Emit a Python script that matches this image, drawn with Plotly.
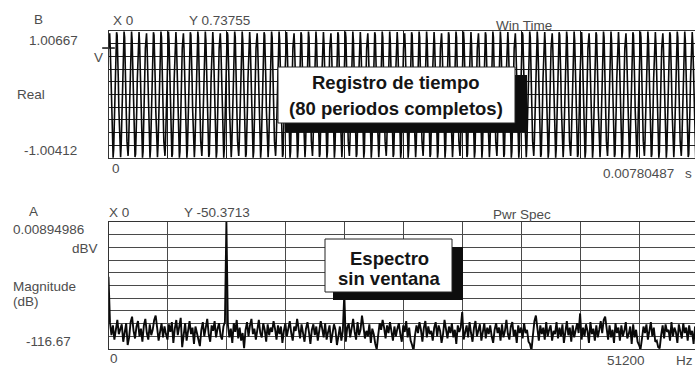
import plotly.graph_objects as go

W, H = 695, 369

# ---- Time record (channel B): 1024 samples at 131072 Sa/s, 80 periods.
# 12.8 samples per period, so the sample pattern repeats every 5 periods (64 samples).
wave_block = [
    0.737, 0.969, 0.971, 0.745, 0.342, -0.141, -0.591, -0.902, -0.999, -0.861, -0.519, -0.055,
    0.423, 0.800, 0.988, 0.943, 0.676, 0.248, -0.238, -0.668, -0.940, -0.990, -0.806, -0.432,
    0.044, 0.509, 0.855, 0.999, 0.906, 0.600, 0.152, -0.332, -0.737, -0.969, -0.971, -0.745,
    -0.342, 0.141, 0.591, 0.902, 0.999, 0.861, 0.519, 0.055, -0.423, -0.800, -0.988, -0.943,
    -0.676, -0.248, 0.238, 0.668, 0.940, 0.990, 0.806, 0.432, -0.044, -0.509, -0.855, -0.999,
    -0.906, -0.600, -0.152, 0.332,
]
block_repeats = 16
sample_rate = 131072
time_end = 0.00780487
time_top, time_bottom = 1.00667, -1.00412

# ---- Power spectrum (channel A): 401 lines, 0..51200 Hz, 128 Hz resolution (dBV)
line_spacing_hz = 128
freq_end = 51200
spec_top, spec_bottom = 0.00894986, -116.67
spectrum_db = [
    -50.4, -92, -104, -95, -108, -97, -90, -103, -99, -94, -110, -101, -93, -113, -106, -92, -87, -100, -107, -96,
    -91, -105, -98, -110, -95, -89, -102, -108, -94, -104, -99, -90, -86, -97, -109, -101, -93, -106, -96, -103,
    -108, -94, -101, -92, -111, -98, -90, -104, -95, -88, -115, -105, -93, -109, -100, -91, -103, -97, -112, -96,
    -102, -107, -114, -99, -92, -105, -97, -89, -103, -110, -95, -100, -91, -106, -98, -93, -104, -108, -96, -92,
    0.0, -94, -106, -98, -111, -93, -101, -90, -107, -97, -109, -102, -116, -99, -92, -105, -95, -89, -103, -98,
    -108, -96, -90, -102, -106, -93, -99, -110, -94, -104, -97, -101, -91, -98, -108, -95, -103, -96, -111, -100,
    -93, -105, -98, -91, -102, -109, -96, -100, -89, -97, -107, -94, -103, -110, -98, -92, -101, -112, -99, -94,
    -104, -96, -109, -100, -91, -98, -106, -93, -108, -101, -95, -111, -102, -94, -99, -113, -105, -96, -109, -100,
    -66, -110, -97, -93, -106, -98, -89, -101, -108, -92, -104, -99, -86, -96, -107, -100, -105, -94, -111, -98,
    -103, -112, -117, -104, -93, -99, -90, -97, -107, -95, -102, -92, -100, -109, -96, -105, -98, -93, -103, -110,
    -95, -101, -91, -106, -97, -109, -113, -118, -104, -95, -102, -92, -99, -110, -97, -91, -106, -96, -103, -100,
    -109, -97, -92, -105, -95, -100, -111, -103, -90, -98, -107, -96, -102, -93, -106, -99, -112, -95, -101, -97,
    -82.7, -108, -100, -95, -106, -92, -102, -110, -97, -91, -105, -100, -94, -109, -101, -93, -107, -97, -103, -95,
    -105, -111, -99, -93, -102, -97, -109, -94, -106, -100, -90, -103, -108, -96, -92, -105, -99, -111, -95, -102,
    -97, -107, -93, -102, -99, -110, -112, -118, -104, -91, -86, -100, -109, -95, -103, -97, -108, -92, -105, -99,
    -95, -109, -100, -103, -92, -107, -97, -105, -94, -111, -99, -91, -104, -97, -110, -95, -106, -100, -93, -102,
    -84, -108, -97, -105, -94, -100, -111, -92, -103, -98, -109, -95, -106, -99, -91, -102, -90, -87, -100, -108,
    -95, -106, -99, -111, -93, -102, -97, -109, -95, -105, -100, -92, -107, -103, -96, -112, -94, -106, -99, -110,
    -113, -117, -107, -96, -102, -94, -108, -100, -92, -105, -97, -110, -109, -115, -116, -104, -95, -107, -94, -101,
    -99, -109, -92, -105, -97, -101, -111, -94, -100, -107, -93, -102, -97, -109, -95, -104, -100, -112, -96, -101,
    -99,
]

wave = wave_block * block_repeats
time_s = [i / sample_rate for i in range(len(wave))]
freq_hz = [i * line_spacing_hz for i in range(len(spectrum_db))]


def px(x):
    return x / W


def py(y):
    return 1 - y / H


# plot areas (pixels); the display runs past the right edge of the page
left_px, full_right_px, page_right_px = 108.5, 698.0, 695.0
vis = (page_right_px - left_px) / (full_right_px - left_px)

fig = go.Figure()

fig.add_trace(go.Scatter(
    x=time_s, y=wave, mode="lines", xaxis="x", yaxis="y",
    line=dict(color="#0a0a0a", width=1.6), hoverinfo="skip", showlegend=False,
))
# marker readout at X 0
fig.add_trace(go.Scatter(
    x=[time_s[0]], y=[wave[0]], mode="markers", xaxis="x", yaxis="y",
    marker=dict(symbol="line-ew", size=9, line=dict(color="#111111", width=1.5)),
    hoverinfo="skip", showlegend=False, cliponaxis=False,
))
fig.add_trace(go.Scatter(
    x=freq_hz, y=spectrum_db, mode="lines", xaxis="x2", yaxis="y2",
    line=dict(color="#0a0a0a", width=1.9), hoverinfo="skip", showlegend=False,
))

base = dict(showticklabels=False, ticks="", zeroline=False, showgrid=True,
            gridwidth=1, showline=True, linecolor="#333333", linewidth=1)
top_grid = dict(gridcolor="#1e1e1e", **base)
bottom_grid = dict(gridcolor="#4a4a4a", **base)

fig.update_layout(
    width=W, height=H,
    margin=dict(l=0, r=0, t=0, b=0),
    paper_bgcolor="white", plot_bgcolor="white",
    xaxis=dict(domain=[px(left_px), 1], range=[0, time_end * vis],
               tick0=0, dtick=time_end / 10, anchor="y", mirror=True, **top_grid),
    yaxis=dict(domain=[py(158), py(31)], range=[time_bottom, time_top],
               tick0=time_bottom, dtick=(time_top - time_bottom) / 10, anchor="x", **top_grid),
    xaxis2=dict(domain=[px(left_px), 1], range=[0, freq_end * vis],
                tick0=0, dtick=freq_end / 10, anchor="y2", mirror=True, **bottom_grid),
    yaxis2=dict(domain=[py(349), py(222)], range=[spec_bottom, spec_top],
                tick0=spec_bottom, dtick=(spec_top - spec_bottom) / 10, anchor="x2", **bottom_grid),
)

# callout boxes with drop shadows
shapes = []
for (x0, y0, x1, y1, sh_x0, sh_y0, sh_x1, sh_y1) in [
    (278, 67, 515, 123, 285, 75, 527, 132),
    (325, 239, 452, 292, 333, 247, 463, 300),
]:
    shapes.append(dict(type="rect", xref="paper", yref="paper",
                       x0=px(sh_x0), x1=px(sh_x1), y0=py(sh_y1), y1=py(sh_y0),
                       fillcolor="#0d0d0d", line=dict(width=0), layer="above"))
    shapes.append(dict(type="rect", xref="paper", yref="paper",
                       x0=px(x0), x1=px(x1), y0=py(y1), y1=py(y0),
                       fillcolor="white", line=dict(color="#222222", width=1), layer="above"))
fig.update_layout(shapes=shapes)

small = dict(family="Liberation Sans, Arial, sans-serif", size=13.5, color="#4d4d4d")
big = dict(family="Liberation Sans, Arial, sans-serif", size=18.5, color="#151515")

labels = [
    # (text, x, y, xanchor, font)
    ("B", 38, 20, "center", small),
    ("1.00667", 80, 40, "right", small),
    ("V", 98, 58, "center", small),
    ("Real", 15, 95, "left", small),
    ("-1.00412", 79, 150, "right", small),
    ("0", 110, 169, "left", small),
    ("X 0", 111, 21, "left", small),
    ("Y 0.73755", 187, 21, "left", small),
    ("Win Time", 494, 25, "left", small),
    ("0.00780487", 676, 173, "right", small),
    ("s", 694, 173, "right", small),
    ("A", 33, 211, "center", small),
    ("0.00894986", 11, 230, "left", small),
    ("dBV", 100, 248, "right", small),
    ("Magnitude", 11, 286, "left", small),
    ("(dB)", 11, 301, "left", small),
    ("-116.67", 73, 341, "right", small),
    ("0", 108, 358, "left", small),
    ("X 0", 107, 212, "left", small),
    ("Y -50.3713", 182, 212, "left", small),
    ("Pwr Spec", 491, 214, "left", small),
    ("51200", 647, 360, "right", small),
    ("Hz", 695, 360, "right", small),
    ("<b>Registro de tiempo</b>", 396, 82, "center", big),
    ("<b>(80 periodos completos)</b>", 396, 109, "center", big),
    ("<b>Espectro</b>", 389, 258, "center", big),
    ("<b>sin ventana</b>", 389, 278, "center", big),
]
fig.update_layout(annotations=[
    dict(text=t, x=px(x), y=py(y), xref="paper", yref="paper",
         xanchor=xa, yanchor="middle", showarrow=False, font=f)
    for (t, x, y, xa, f) in labels
])

fig.write_html("out.html")
